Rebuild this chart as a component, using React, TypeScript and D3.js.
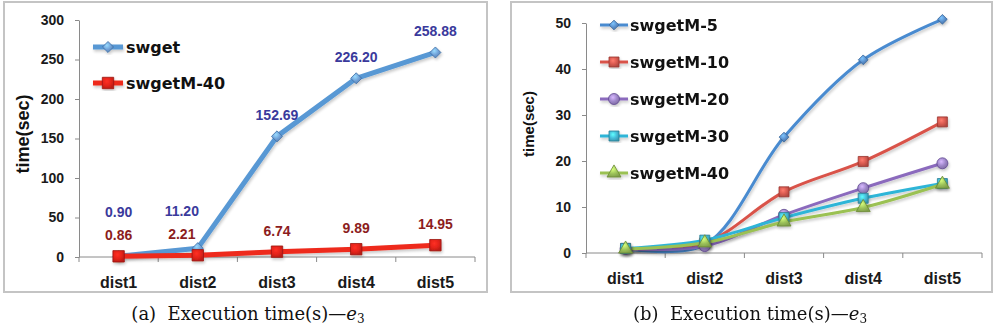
import React, { useEffect, useRef } from "react";
import * as d3 from "d3";

// chart data
const categories = ["dist1", "dist2", "dist3", "dist4", "dist5"];
const swget = [0.9, 11.2, 152.69, 226.2, 258.88];
const swgetM40 = [0.86, 2.21, 6.74, 9.89, 14.95];
const swgetM5 = [0.9, 1.8, 25.2, 42.0, 50.8];
const swgetM10 = [1.0, 2.2, 13.3, 19.9, 28.5];
const swgetM20 = [0.9, 1.5, 8.3, 14.1, 19.5];
const swgetM30 = [1.0, 2.8, 7.7, 11.9, 15.1];
const leftTicks = [0, 50, 100, 150, 200, 250, 300];
const rightTicks = [0, 10, 20, 30, 40, 50];
const leftNames = ["swget", "swgetM-40"];
const rightNames = ["swgetM-5", "swgetM-10", "swgetM-20", "swgetM-30", "swgetM-40"];

const SANS = "'Liberation Sans', Arial, sans-serif";
const LEGEND_FONT = "'DejaVu Sans', sans-serif";

type Shape = "diamond" | "square" | "circle" | "triangle";

function symbolFor(shape: Shape, size: number) {
  const t =
    shape === "diamond" ? d3.symbolDiamond2 :
    shape === "square" ? d3.symbolSquare :
    shape === "circle" ? d3.symbolCircle : d3.symbolTriangle;
  return d3.symbol().type(t).size(size)() as string;
}

function App() {
  const ref = useRef<SVGSVGElement>(null);

  useEffect(() => {
    const svg = d3.select(ref.current);
    svg.selectAll("*").remove();

    const defs = svg.append("defs");
    const shadow = defs.append("filter").attr("id", "shadow")
      .attr("x", "-20%").attr("y", "-20%").attr("width", "140%").attr("height", "140%");
    shadow.append("feGaussianBlur").attr("in", "SourceAlpha").attr("stdDeviation", 1.6).attr("result", "b");
    shadow.append("feOffset").attr("in", "b").attr("dx", 1).attr("dy", 1.5).attr("result", "o");
    shadow.append("feComponentTransfer").attr("in", "o").attr("result", "o2")
      .append("feFuncA").attr("type", "linear").attr("slope", 0.22);
    const merge = shadow.append("feMerge");
    merge.append("feMergeNode").attr("in", "o2");
    merge.append("feMergeNode").attr("in", "SourceGraphic");

    function gradient(id: string, base: string) {
      const c = d3.color(base)!;
      const g = defs.append("radialGradient").attr("id", id)
        .attr("cx", "40%").attr("cy", "35%").attr("r", "70%");
      g.append("stop").attr("offset", "0%").attr("stop-color", c.brighter(0.9).formatHex());
      g.append("stop").attr("offset", "55%").attr("stop-color", base);
      g.append("stop").attr("offset", "100%").attr("stop-color", c.darker(0.6).formatHex());
    }

    function marker(g: any, shape: Shape, cx: number, cy: number, size: number, fillId: string, stroke: string) {
      g.append("path")
        .attr("d", symbolFor(shape, size))
        .attr("transform", `translate(${cx},${cy})`)
        .attr("fill", `url(#${fillId})`)
        .attr("stroke", stroke)
        .attr("stroke-width", 0.8);
    }

    function axes(g: any, x: d3.ScaleBand<string>, y: d3.ScaleLinear<number, number>, ticks: number[], tickFont: number) {
      const yAxis = g.append("g")
        .attr("transform", `translate(${x.range()[0]},0)`)
        .call(d3.axisLeft(y).tickValues(ticks).tickSize(4).tickSizeOuter(0).tickPadding(11));
      yAxis.selectAll("path,line").attr("stroke", "#8a8a8a");
      yAxis.selectAll("text")
        .attr("font-family", SANS).attr("font-weight", "bold")
        .attr("font-size", tickFont).attr("fill", "#1a1a1a");

      const y0 = y(0);
      const [x0, x1] = x.range();
      g.append("line").attr("x1", x0).attr("x2", x1).attr("y1", y0).attr("y2", y0)
        .attr("stroke", "#8a8a8a");
      const bounds = categories.map((c) => x(c)!).concat([x1]);
      g.selectAll(".xt").data(bounds).enter().append("line")
        .attr("x1", (d: number) => d).attr("x2", (d: number) => d)
        .attr("y1", y0).attr("y2", y0 + 5).attr("stroke", "#8a8a8a");
      g.selectAll(".xl").data(categories).enter().append("text")
        .attr("x", (d: string) => x(d)! + x.bandwidth() / 2)
        .attr("y", y0 + 31)
        .attr("text-anchor", "middle")
        .attr("font-family", SANS).attr("font-weight", "bold")
        .attr("font-size", 16).attr("fill", "#1a1a1a")
        .text((d: string) => d);
    }

    function caption(cx: number, letter: string) {
      const t = svg.append("text")
        .attr("x", cx).attr("y", 320).attr("text-anchor", "middle")
        .attr("font-family", "'DejaVu Serif', serif").attr("font-size", 18).attr("fill", "#111");
      t.append("tspan").text(`(${letter})\u00a0\u00a0Execution time(s)\u2014`);
      t.append("tspan").attr("font-style", "italic").text("e");
      t.append("tspan").attr("font-size", 12).attr("dy", 3).text("3");
    }

    // ---------- left panel ----------
    const left = svg.append("g");
    left.append("rect").attr("x", 4).attr("y", 2).attr("width", 483).attr("height", 290)
      .attr("fill", "#fff").attr("stroke", "#c4c4c4").attr("stroke-width", 2);

    const xL = d3.scaleBand<string>().domain(categories).range([79, 475]);
    const yL = d3.scaleLinear().domain([0, 300]).range([257, 20]);
    axes(left, xL, yL, leftTicks, 14);

    left.append("text")
      .attr("transform", "translate(29,134) rotate(-90)")
      .attr("text-anchor", "middle")
      .attr("font-family", SANS).attr("font-weight", "bold").attr("font-size", 18)
      .attr("fill", "#111").text("time(sec)");

    gradient("gBlueL", "#6f9fd6");
    gradient("gRedL", "#e4231a");
    const leftSeries = [
      { name: leftNames[0], values: swget, color: "#5898d4", shape: "diamond" as Shape, fill: "gBlueL", stroke: "#3d6ea6", size: 78 },
      { name: leftNames[1], values: swgetM40, color: "#ee2a1c", shape: "square" as Shape, fill: "gRedL", stroke: "#9c1410", size: 130 },
    ];
    const lineL = d3.line<number>()
      .x((_, i) => xL(categories[i])! + xL.bandwidth() / 2)
      .y((d) => yL(d));
    leftSeries.forEach((s) => {
      const g = left.append("g").attr("filter", "url(#shadow)");
      g.append("path").attr("d", lineL(s.values)).attr("fill", "none")
        .attr("stroke", s.color).attr("stroke-width", 5).attr("stroke-linejoin", "round");
      s.values.forEach((v, i) => marker(g, s.shape, xL(categories[i])! + xL.bandwidth() / 2, yL(v), s.size, s.fill, s.stroke));
    });

    // data labels
    const labelFont = { family: SANS, size: 14 };
    categories.forEach((c, i) => {
      const cx = xL(c)! + xL.bandwidth() / 2;
      const redY = yL(swgetM40[i]) - 21;
      const blueY = Math.min(yL(swget[i]) - 21, redY - 23);
      // nudge the pair left when the next rising segment of swget runs through them
      let shift = 0;
      if (i < categories.length - 1) {
        const nx = xL(categories[i + 1])! + xL.bandwidth() / 2;
        const ya = yL(swget[i]);
        const yb = yL(swget[i + 1]);
        if (yb < redY && ya > redY) {
          const lx = cx + ((nx - cx) * (ya - redY)) / (ya - yb);
          if (lx < cx + 22) shift = -16;
        }
      }
      left.append("text").attr("x", cx + shift).attr("y", redY).attr("dy", "0.35em")
        .attr("text-anchor", "middle").attr("font-family", labelFont.family)
        .attr("font-weight", "bold").attr("font-size", labelFont.size).attr("fill", "#8c1d1d")
        .text(swgetM40[i].toFixed(2));
      left.append("text").attr("x", cx + shift).attr("y", blueY).attr("dy", "0.35em")
        .attr("text-anchor", "middle").attr("font-family", labelFont.family)
        .attr("font-weight", "bold").attr("font-size", labelFont.size).attr("fill", "#3a3a9c")
        .text(swget[i].toFixed(2));
    });

    // legend
    leftSeries.forEach((s, i) => {
      const ly = 47 + i * 36;
      const g = left.append("g").attr("filter", "url(#shadow)");
      g.append("line").attr("x1", 93).attr("x2", 123).attr("y1", ly).attr("y2", ly)
        .attr("stroke", s.color).attr("stroke-width", 5);
      marker(g, s.shape, 108, ly, s.size, s.fill, s.stroke);
      left.append("text").attr("x", 126).attr("y", ly).attr("dy", "0.36em")
        .attr("font-family", LEGEND_FONT).attr("font-weight", "bold").attr("font-size", 16)
        .attr("fill", "#111").text(s.name);
    });
    caption(248, "a");

    // ---------- right panel ----------
    const right = svg.append("g");
    right.append("rect").attr("x", 511).attr("y", 2).attr("width", 481).attr("height", 290)
      .attr("fill", "#fff").attr("stroke", "#c4c4c4").attr("stroke-width", 2);

    const xR = d3.scaleBand<string>().domain(categories).range([586, 982]);
    const yR = d3.scaleLinear().domain([0, 50]).range([253, 23]);
    axes(right, xR, yR, rightTicks, 14);

    right.append("text")
      .attr("transform", "translate(534,124) rotate(-90)")
      .attr("text-anchor", "middle")
      .attr("font-family", SANS).attr("font-weight", "bold").attr("font-size", 15)
      .attr("fill", "#111").text("time(sec)");

    gradient("gR5", "#5b8fcb");
    gradient("gR10", "#d85a50");
    gradient("gR20", "#9d86c8");
    gradient("gR30", "#45bcd9");
    gradient("gR40", "#9cc25a");
    const rightSeries = [
      { name: rightNames[0], values: swgetM5, color: "#4a8bd0", shape: "diamond" as Shape, fill: "gR5", stroke: "#35649a", size: 60 },
      { name: rightNames[1], values: swgetM10, color: "#d9534a", shape: "square" as Shape, fill: "gR10", stroke: "#9a3630", size: 100 },
      { name: rightNames[2], values: swgetM20, color: "#8b6bbd", shape: "circle" as Shape, fill: "gR20", stroke: "#5f4890", size: 95 },
      { name: rightNames[3], values: swgetM30, color: "#2fb5d7", shape: "square" as Shape, fill: "gR30", stroke: "#2a7f96", size: 100 },
      { name: rightNames[4], values: swgetM40, color: "#9bc152", shape: "triangle" as Shape, fill: "gR40", stroke: "#6a8a33", size: 85 },
    ];
    const lineR = d3.line<number>()
      .x((_, i) => xR(categories[i])! + xR.bandwidth() / 2)
      .y((d) => yR(d))
      .curve(d3.curveCatmullRom.alpha(0.5));
    rightSeries.forEach((s) => {
      const g = right.append("g").attr("filter", "url(#shadow)");
      g.append("path").attr("d", lineR(s.values)).attr("fill", "none")
        .attr("stroke", s.color).attr("stroke-width", 3);
    });
    rightSeries.forEach((s) => {
      const g = right.append("g").attr("filter", "url(#shadow)");
      s.values.forEach((v, i) => marker(g, s.shape, xR(categories[i])! + xR.bandwidth() / 2, yR(v), s.size, s.fill, s.stroke));
    });

    rightSeries.forEach((s, i) => {
      const ly = 25 + i * 37;
      const g = right.append("g").attr("filter", "url(#shadow)");
      g.append("line").attr("x1", 600).attr("x2", 628).attr("y1", ly).attr("y2", ly)
        .attr("stroke", s.color).attr("stroke-width", 3);
      marker(g, s.shape, 614, ly, s.size, s.fill, s.stroke);
      right.append("text").attr("x", 630).attr("y", ly).attr("dy", "0.36em")
        .attr("font-family", LEGEND_FONT).attr("font-weight", "bold").attr("font-size", 16)
        .attr("fill", "#111").text(s.name);
    });
    caption(750, "b");
  }, []);

  return (
    <svg
      ref={ref}
      width={993}
      height={331}
      style={{ position: "absolute", left: 0, top: 0, background: "#fff" }}
    />
  );
}

export default App;
